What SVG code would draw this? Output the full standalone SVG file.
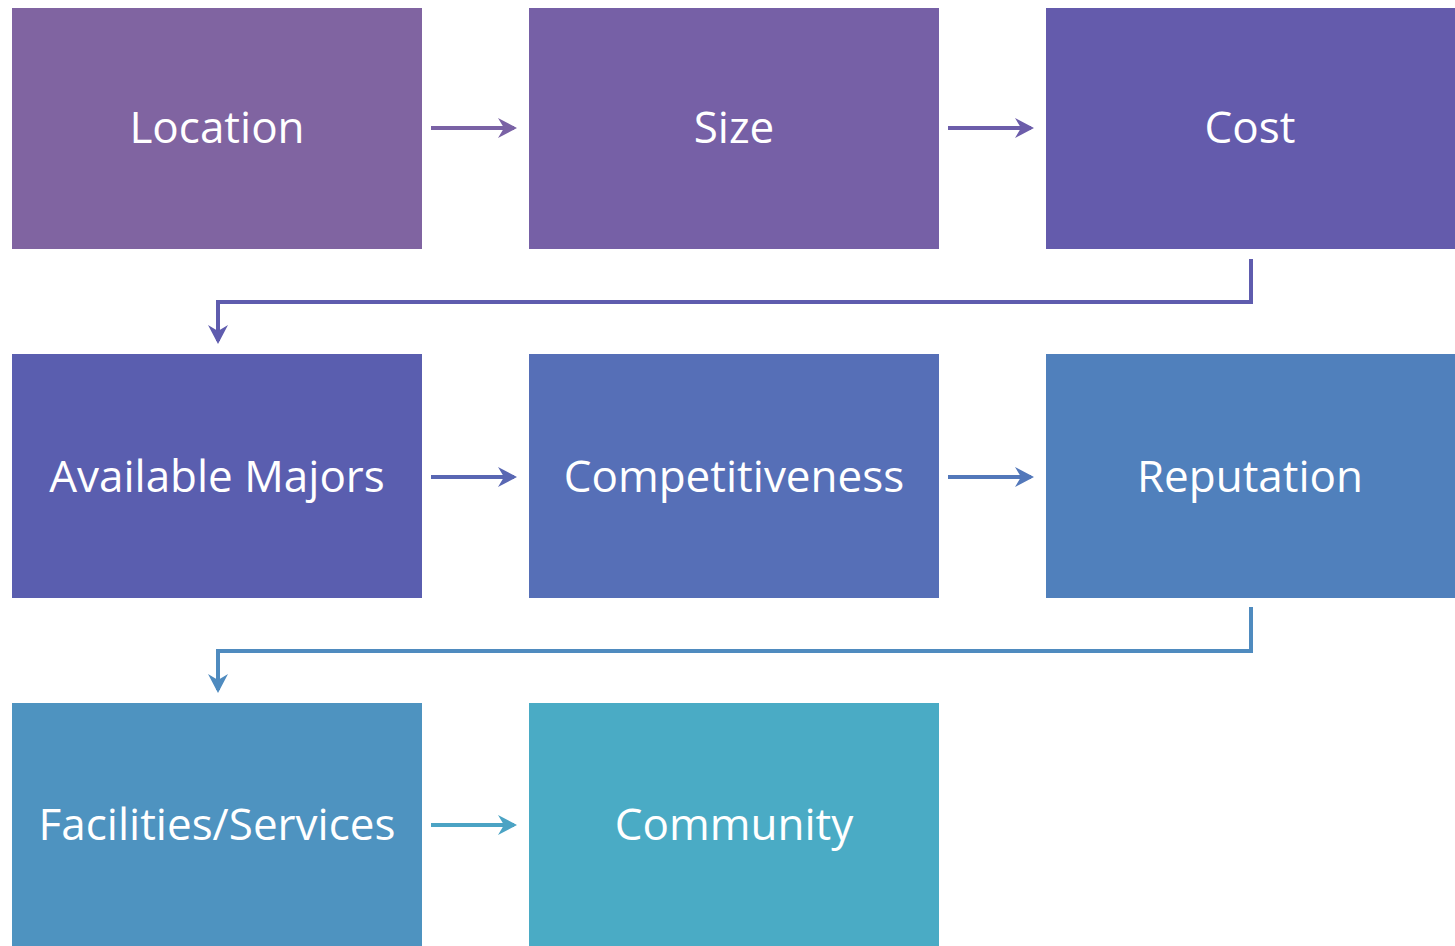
<svg xmlns="http://www.w3.org/2000/svg" width="1455" height="946" viewBox="0 0 1455 946">
<style>
.box{stroke:none}
.lbl{font-family:"Open Sans","Noto Sans","Liberation Sans",sans-serif;font-size:44px;fill:#ffffff;text-anchor:middle}
.con{fill:none;stroke-width:4;stroke-linejoin:miter}
</style>
<defs>
<marker id="arr" viewBox="-25 -25 50 50" refX="0" refY="0" markerWidth="50" markerHeight="50" markerUnits="userSpaceOnUse" orient="auto">
<path d="M-16,-10 L3,0 L-16,10 L-10,0 Z" fill="context-stroke"/>
</marker>
</defs>
<rect width="1455" height="946" fill="#ffffff"/>
<g id="n-location"><rect class="box" x="12" y="8" width="410" height="241" fill="#8064A1"/><text class="lbl" x="217" y="143">Location</text></g>
<g id="n-size"><rect class="box" x="529" y="8" width="410" height="241" fill="#7660A6"/><text class="lbl" x="734" y="143">Size</text></g>
<g id="n-cost"><rect class="box" x="1046" y="8" width="409" height="241" fill="#645BAC"/><text class="lbl" x="1250" y="143">Cost</text></g>
<g id="n-majors"><rect class="box" x="12" y="354" width="410" height="244" fill="#5A5EAF"/><text class="lbl" x="217" y="492">Available Majors</text></g>
<g id="n-compet"><rect class="box" x="529" y="354" width="410" height="244" fill="#566FB7"/><text class="lbl" x="734" y="492">Competitiveness</text></g>
<g id="n-reput"><rect class="box" x="1046" y="354" width="409" height="244" fill="#5080BC"/><text class="lbl" x="1250" y="492">Reputation</text></g>
<g id="n-facil"><rect class="box" x="12" y="703" width="410" height="243" fill="#4E93C0"/><text class="lbl" x="217" y="840">Facilities/Services</text></g>
<g id="n-comm"><rect class="box" x="529" y="703" width="410" height="243" fill="#4AABC5"/><text class="lbl" x="734" y="840">Community</text></g>
<g id="connectors">
<path class="con" stroke="#7A62A5" d="M431,128 H514" marker-end="url(#arr)"/>
<path class="con" stroke="#6C5DAA" d="M948,128 H1031" marker-end="url(#arr)"/>
<path class="con" stroke="#5F5CAE" d="M1251,259 V302 H218 V341" marker-end="url(#arr)"/>
<path class="con" stroke="#5967B3" d="M431,477 H514" marker-end="url(#arr)"/>
<path class="con" stroke="#5378BA" d="M948,477 H1031" marker-end="url(#arr)"/>
<path class="con" stroke="#4F8BBF" d="M1251,607 V651 H218 V690" marker-end="url(#arr)"/>
<path class="con" stroke="#4BA3C4" d="M431,825 H514" marker-end="url(#arr)"/>
</g>
</svg>
